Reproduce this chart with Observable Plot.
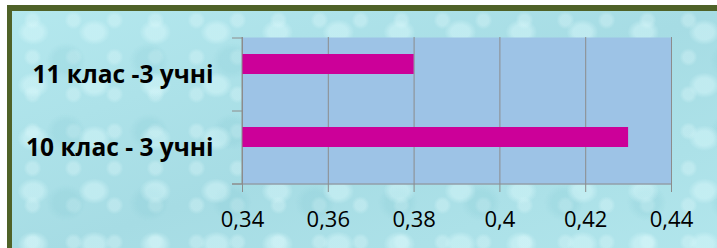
<!DOCTYPE html>
<html><head><meta charset="utf-8">
<script src="https://cdn.jsdelivr.net/npm/d3@7"></script>
<script src="https://cdn.jsdelivr.net/npm/@observablehq/plot@0.6"></script>
<style>
html,body{margin:0;padding:0;background:#fff;}
#wrap{position:relative;width:717px;height:248px;overflow:hidden;}
#bg{position:absolute;left:7px;top:5px;width:720px;height:250px;border-top:6px solid #4F6228;border-left:5px solid #4F6228;
 background:
  radial-gradient(ellipse at 35% 40%, rgba(220,250,252,0.45) 0 9px, transparent 16px),
  radial-gradient(ellipse at 65% 70%, rgba(130,200,210,0.22) 0 12px, transparent 20px),
  radial-gradient(circle at 50% 25%, rgba(230,252,253,0.3) 0 5px, transparent 9px),
  linear-gradient(160deg,#b4e8ee,#a6dce4 50%,#b2e6ec);
 background-size:61px 53px,83px 71px,41px 37px,100% 100%;}
#chart{position:absolute;left:0;top:0;}
</style></head>
<body><div id="wrap"><div id="bg"></div><div id="chart"></div></div>
<script>
const categories = ["11 клас -3 учні", "10 клас - 3 учні"];
const values = [0.38, 0.43];
const xTicks = [0.34, 0.36, 0.38, 0.4, 0.42, 0.44];

const data = categories.map((c, i) => ({category: c, value: values[i]}));
const gray = "#8c8c8c";
const fmt = d => String(d).replace(".", ",");

const axisLines = (index, scales, values, dims) => {
  const y = scales.y;
  const left = dims.marginLeft, right = dims.width - dims.marginRight;
  const top = dims.marginTop, bottom = dims.height - dims.marginBottom;
  const ys = categories.map(c => y(c)).concat([bottom]);
  const g = d3.create("svg:g").attr("stroke", gray).attr("stroke-width", 1).attr("fill", "none");
  g.append("path").attr("d", `M${left},${top}V${bottom}`);
  g.append("path").attr("d", `M${left - 10},${bottom}H${right}`);
  for (const yy of ys) g.append("path").attr("d", `M${left - 10},${yy}H${left}`);
  return g.node();
};

const chart = Plot.plot({
  width: 717,
  height: 248,
  marginLeft: 242,
  marginRight: 46,
  marginTop: 37,
  marginBottom: 64,
  style: {fontFamily: "Open Sans", background: "transparent", overflow: "visible"},
  x: {domain: [xTicks[0], xTicks[xTicks.length - 1]], label: null},
  y: {domain: categories, padding: 0, label: null},
  marks: [
    Plot.frame({fill: "#9DC3E6", stroke: "none"}),
    Plot.gridX(xTicks, {stroke: gray, strokeOpacity: 1}),
    Plot.barX(data, {y: "category", x1: xTicks[0], x2: "value", fill: "#CC0099", insetTop: 16, insetBottom: 37}),
    axisLines,
    Plot.axisX({ticks: xTicks, tickSize: 8, tickPadding: 19, tickFormat: fmt, stroke: gray, fill: "black", fontSize: 22, label: null}),
    Plot.axisY({tickSize: 0, tickPadding: 29, fontSize: 24.5, fontWeight: "bold", fill: "black", label: null})
  ]
});
document.getElementById("chart").appendChild(chart);
</script>
</body></html>
